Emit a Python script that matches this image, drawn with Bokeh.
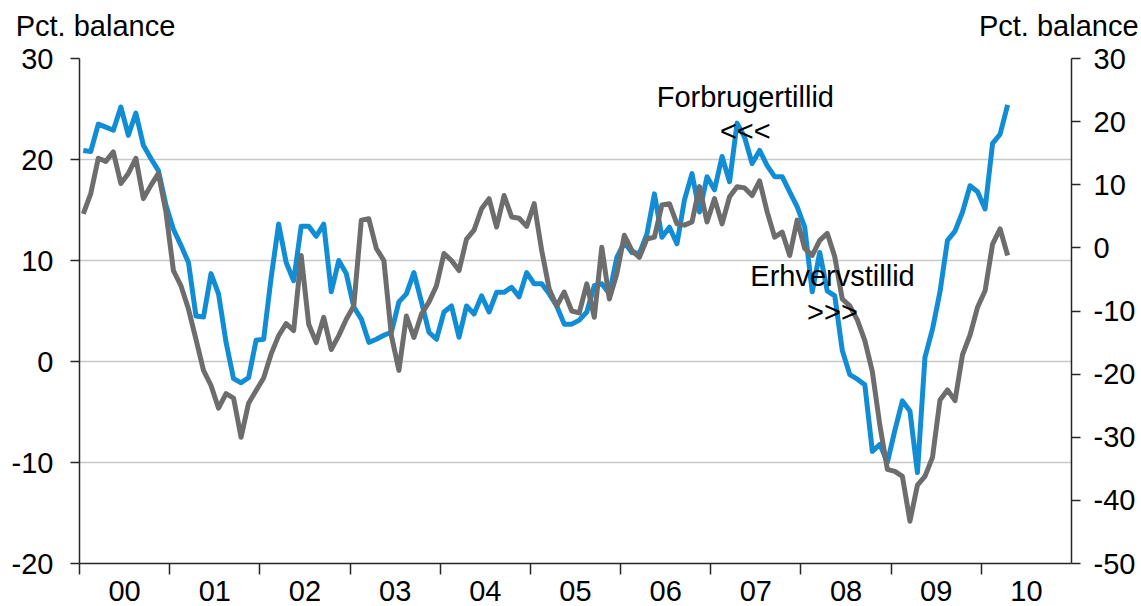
from bokeh.plotting import figure
from bokeh.models import Range1d, LinearAxis, FixedTicker, Label, Grid, ColumnDataSource
from bokeh.embed import file_html
from bokeh.resources import INLINE

# Year labels on the category axis (one per calendar year)
years = ["00", "01", "02", "03", "04", "05", "06", "07", "08", "09", "10"]

# Monthly data, Jan 2000 - Apr 2010
# Forbrugertillid (consumer confidence), left axis, pct. balance
forbruger = [
    20.9, 20.8, 23.5, 23.2, 22.9, 25.2, 22.4, 24.6, 21.4, 20.1, 18.9, 15.5,
    13.1, 11.5, 9.8, 4.5, 4.4, 8.7, 6.7, 1.9, -1.7, -2.1, -1.6, 2.1,
    2.2, 8.3, 13.6, 9.8, 8.0, 13.4, 13.4, 12.4, 13.6, 6.9, 10.0, 8.7,
    5.4, 4.2, 1.9, 2.2, 2.6, 2.9, 5.9, 6.7, 8.8, 5.9, 2.9, 2.2,
    4.9, 5.5, 2.4, 5.5, 4.7, 6.5, 4.9, 6.85, 6.85, 7.35, 6.4, 8.8,
    7.7, 7.7, 6.7, 5.5, 3.7, 3.7, 4.1, 4.9, 7.5, 7.7, 6.7, 10.3,
    11.8, 10.8, 10.7, 12.6, 16.6, 12.3, 13.3, 11.65, 16.0, 18.6, 14.8, 18.3,
    17.0, 20.3, 17.8, 23.6, 22.2, 19.6, 20.9, 19.4, 18.3, 18.3, 16.8, 15.3,
    13.3, 6.9, 10.8, 7.0, 6.5, 1.1, -1.3, -1.75, -2.3, -8.9, -8.2, -10.0,
    -6.8, -3.9, -4.9, -11.0, 0.4, 3.2, 6.9, 12.0, 12.9, 14.8, 17.4, 16.8,
    15.1, 21.6, 22.5, 25.4,
]
# Erhvervstillid (business confidence), right axis, pct. balance
erhverv = [
    5.4, 8.6, 14.2, 13.7, 15.2, 10.2, 11.8, 14.2, 7.8, 9.9, 11.8, 5.7,
    -3.6, -6.0, -9.7, -14.5, -19.4, -21.8, -25.4, -23.1, -23.8, -30.0, -24.6, -22.6,
    -20.6, -16.8, -13.9, -12.0, -13.1, -1.2, -12.1, -15.0, -11.0, -16.1, -13.9, -11.3,
    -9.2, 4.4, 4.6, -0.1, -2.0, -13.9, -19.4, -10.8, -14.2, -10.5, -8.6, -6.0,
    -0.9, -2.0, -3.6, 1.4, 2.8, 6.2, 7.8, 3.3, 8.3, 4.9, 4.7, 3.4,
    7.0, -0.4, -6.5, -9.2, -7.0, -10.0, -10.3, -5.7, -11.0, 0.1, -8.1, -4.1,
    2.0, -0.4, -1.5, 1.4, 1.7, 6.8, 7.0, 3.8, 3.6, 4.1, 9.7, 4.1,
    7.8, 3.8, 8.1, 9.7, 9.5, 8.3, 10.6, 5.7, 1.7, 2.5, -1.2, 4.4,
    -0.1, -1.2, 1.2, 2.3, -1.4, -8.1, -9.2, -11.4, -14.7, -19.6, -28.1, -35.1,
    -35.4, -36.2, -43.3, -37.6, -36.2, -33.2, -24.1, -22.5, -24.2, -16.9, -13.8, -9.4,
    -6.8, 0.6, 3.0, -1.2,
]

left_ticks = [-20, -10, 0, 10, 20, 30]
right_ticks = [-50, -40, -30, -20, -10, 0, 10, 20, 30]
unit_label = "Pct. balance"

FONT = "Liberation Sans"
FS = "29px"
BLUE = "#118dd6"
GREY = "#6d6d6d"
AXIS = "#262626"

W, H = 1141, 606
BL, BR, BT, BB = 79, 70, 58, 43

n_months = 12 * len(years)
month_pos = [i + 0.5 for i in range(len(forbruger))]
src = ColumnDataSource(dict(x=month_pos, forbruger=forbruger, erhverv=erhverv))

p = figure(width=W, height=H,
           x_range=Range1d(0, n_months), y_range=Range1d(left_ticks[0], left_ticks[-1]),
           x_axis_type=None, y_axis_type=None,
           output_backend="svg", toolbar_location=None,
           min_border_left=BL, min_border_right=BR, min_border_top=BT, min_border_bottom=BB)
p.extra_y_ranges = {"right": Range1d(right_ticks[0], right_ticks[-1])}
p.outline_line_color = None
p.background_fill_color = "white"
p.border_fill_color = "white"

left = LinearAxis(ticker=FixedTicker(ticks=left_ticks),
                  major_label_overrides={t: str(t) for t in left_ticks})
right = LinearAxis(y_range_name="right", ticker=FixedTicker(ticks=right_ticks),
                   major_label_overrides={t: str(t) for t in right_ticks})
for ax, so in ((left, 17), (right, 13)):
    ax.major_tick_out = 9
    ax.major_tick_in = 0
    ax.minor_tick_line_color = None
    ax.major_label_standoff = so
    ax.major_label_text_font = FONT
    ax.major_label_text_font_size = FS
    ax.major_label_text_color = "black"
    ax.axis_line_color = AXIS
    ax.axis_line_width = 1.5
    ax.major_tick_line_color = AXIS
    ax.major_tick_line_width = 1.5
p.add_layout(left, "left")
p.add_layout(right, "right")

centers = [12 * k + 6 for k in range(len(years))]
bounds = [12 * k for k in range(len(years))]
bottom = LinearAxis(ticker=FixedTicker(ticks=centers, minor_ticks=bounds),
                    major_label_overrides={c: y for c, y in zip(centers, years)})
bottom.major_tick_out = 0
bottom.major_tick_in = 0
bottom.major_tick_line_color = None
bottom.minor_tick_out = 11
bottom.minor_tick_in = 0
bottom.minor_tick_line_color = AXIS
bottom.minor_tick_line_width = 1.5
bottom.axis_line_color = AXIS
bottom.axis_line_width = 1.5
bottom.major_label_standoff = 6
bottom.major_label_text_font = FONT
bottom.major_label_text_font_size = FS
bottom.major_label_text_color = "black"
p.add_layout(bottom, "below")

# Unit captions above both value axes, drawn as labels of an invisible top axis
cap_pos = [2.13, 130.3]
top = LinearAxis(ticker=FixedTicker(ticks=cap_pos, minor_ticks=[]),
                 major_label_overrides={c: unit_label for c in cap_pos})
top.axis_line_color = None
top.major_tick_line_color = None
top.minor_tick_line_color = None
top.major_tick_out = 0
top.major_tick_in = 0
top.major_label_standoff = 17
top.major_label_text_font = FONT
top.major_label_text_font_size = FS
top.major_label_text_color = "black"
p.add_layout(top, "above")

p.add_layout(Grid(dimension=1, ticker=left.ticker, grid_line_color="#c8c8c8", grid_line_width=1.5))

p.line("x", "forbruger", source=src, line_color=BLUE, line_width=5, line_join="round")
p.line("x", "erhverv", source=src, y_range_name="right", line_color=GREY, line_width=5, line_join="round")

def lab(x, y, text, align):
    p.add_layout(Label(x=x, y=y, text=text, text_align=align, text_baseline="alphabetic",
                       text_font=FONT, text_font_size=FS, text_color="black"))

lab(88.6, 26.17, "Forbrugertillid", "center")
lab(88.6, 22.82, "<<<", "center")
lab(100.2, 8.47, "Erhvervstillid", "center")
lab(100.2, 4.95, ">>>", "center")

open("out.html", "w").write(file_html(p, INLINE))
